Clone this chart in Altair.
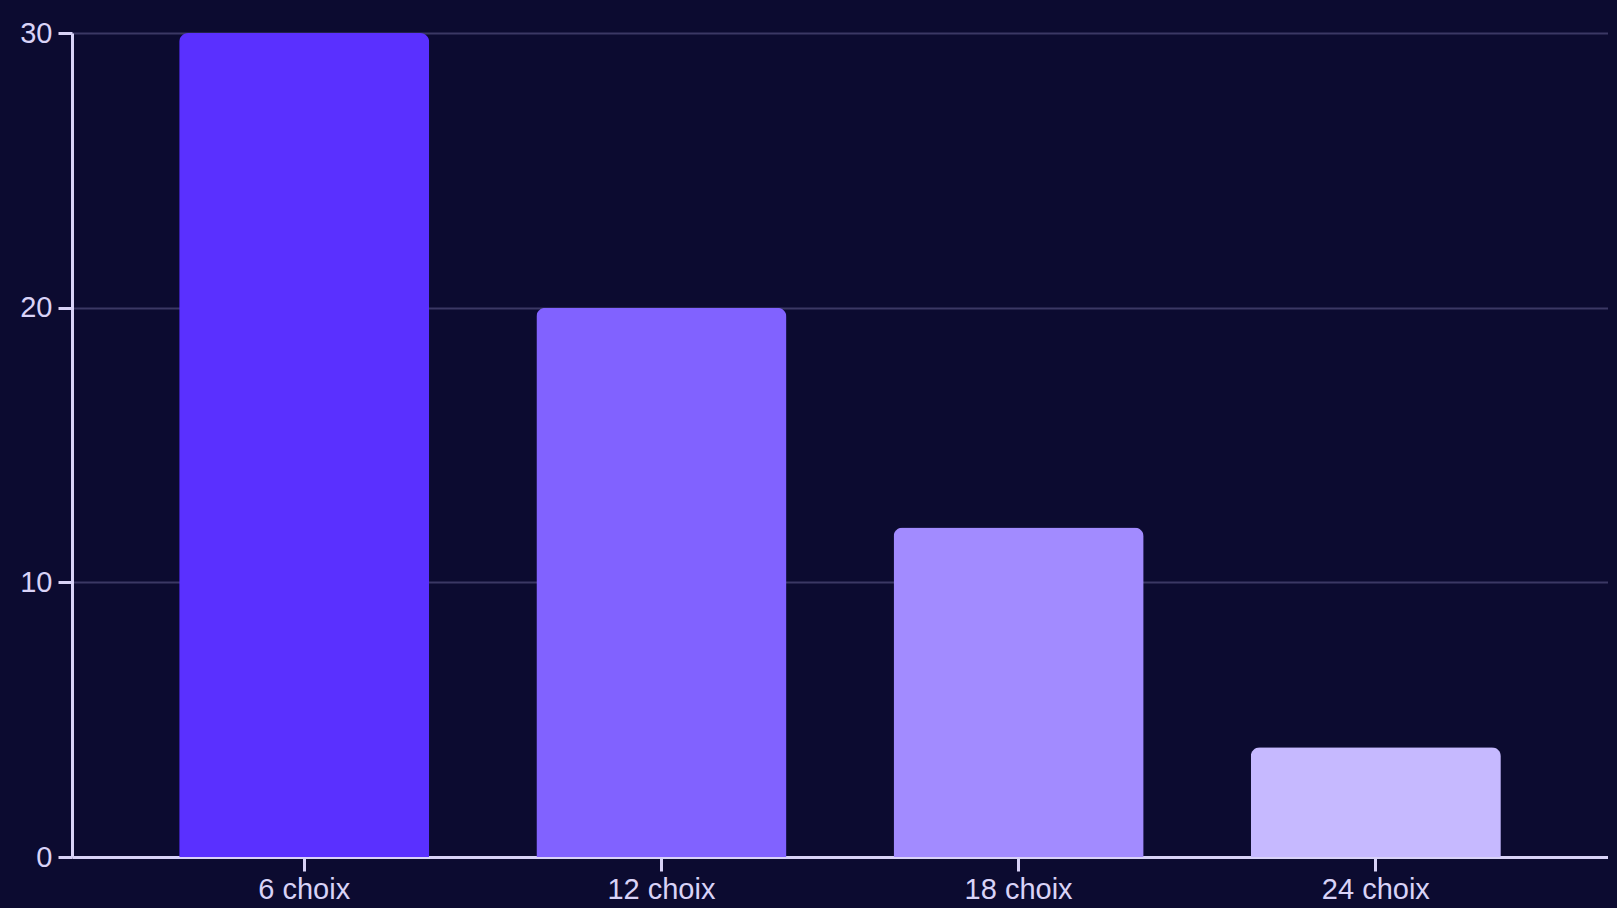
import re
import altair as alt
import pandas as pd

categories = ["6 choix", "12 choix", "18 choix", "24 choix"]
values = [30, 20, 12, 4]
colors = ["#5a30ff", "#8162ff", "#a28bff", "#c6b9ff"]

df = pd.DataFrame({"cat": categories, "val": values, "color": colors})

axis_col = "#d9d3f7"
bg = "#0c0b30"

chart = (
    alt.Chart(df)
    .mark_bar(cornerRadiusTopLeft=9, cornerRadiusTopRight=9)
    .encode(
        x=alt.X(
            "cat:N",
            sort=categories,
            title=None,
            scale=alt.Scale(paddingInner=0.3, paddingOuter=0.3),
            axis=alt.Axis(
                labelAngle=0,
                labelFontSize=29,
                labelColor=axis_col,
                labelFont="Liberation Sans",
                domainColor=axis_col,
                domainWidth=3,
                tickColor=axis_col,
                tickWidth=3,
                tickSize=14,
                labelPadding=4,
                grid=False,
            ),
        ),
        y=alt.Y(
            "val:Q",
            title=None,
            scale=alt.Scale(domain=[0, 30]),
            axis=alt.Axis(
                values=[0, 10, 20, 30],
                labelFontSize=29,
                labelColor=axis_col,
                labelFont="Liberation Sans",
                domainColor=axis_col,
                domainWidth=3,
                tickColor=axis_col,
                tickWidth=3,
                tickSize=14,
                labelPadding=6,
                grid=True,
                gridColor="#3b3864",
                gridWidth=2,
            ),
        ),
        color=alt.Color("color:N", scale=None, legend=None),
    )
    .properties(
        width=1536,
        height=824,
        background=bg,
        autosize=alt.AutoSizeParams(type="none"),
        padding={"left": 64, "top": 25, "right": 0, "bottom": 51},
    )
    .configure_view(stroke=None)
)

save_kwargs = {}
try:
    import jinja2
    import altair.utils.html as _h
    src = open(_h.__file__, encoding="utf-8").read()
    m = re.search(r'HTML_TEMPLATE\s*=\s*jinja2\.Template\(\s*"""(.*?)"""', src, re.S)
    if m and "<head>" in m.group(1):
        tpl = m.group(1).replace(
            "<head>",
            "<head>\n<style>html,body{background:%s;overflow:hidden;}</style>" % bg,
            1,
        )
        save_kwargs["template"] = jinja2.Template(tpl)
except Exception:
    save_kwargs = {}

chart.save("out.html", embed_options={"renderer": "svg", "actions": False}, **save_kwargs)
